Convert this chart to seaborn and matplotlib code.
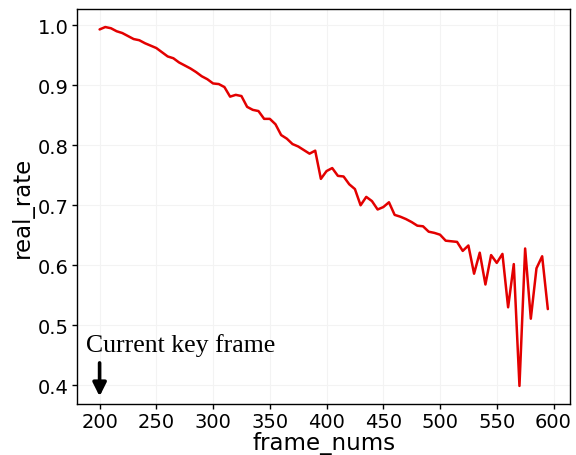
import matplotlib
matplotlib.use("Agg")
import matplotlib.pyplot as plt
import seaborn as sns
import pandas as pd

frame_nums = list(range(200, 600, 5))
real_rate = [
    0.993, 0.997, 0.995, 0.990, 0.987, 0.982, 0.977, 0.975, 0.970, 0.966,
    0.962, 0.955, 0.948, 0.945, 0.938, 0.933, 0.928, 0.922, 0.915, 0.910,
    0.903, 0.902, 0.897, 0.881, 0.884, 0.882, 0.864, 0.859, 0.857, 0.844,
    0.844, 0.835, 0.817, 0.811, 0.802, 0.798, 0.792, 0.786, 0.791, 0.744,
    0.757, 0.762, 0.749, 0.748, 0.735, 0.727, 0.700, 0.714, 0.707, 0.693,
    0.697, 0.705, 0.684, 0.681, 0.677, 0.672, 0.666, 0.665, 0.656, 0.654,
    0.651, 0.641, 0.640, 0.639, 0.624, 0.633, 0.586, 0.621, 0.568, 0.617,
    0.604, 0.619, 0.530, 0.602, 0.399, 0.628, 0.511, 0.595, 0.615, 0.527,
]
x_ticks = [200, 250, 300, 350, 400, 450, 500, 550, 600]
y_ticks = [0.4, 0.5, 0.6, 0.7, 0.8, 0.9, 1.0]
key_frame = 200
annotation = "Current key frame"

sns.set_theme(style="white")
plt.rcParams['font.family'] = ['DejaVu Sans']

df = pd.DataFrame({"frame_nums": frame_nums, "real_rate": real_rate})

fig = plt.figure(figsize=(5.76, 4.56), dpi=100)
ax = fig.add_axes([0.134, 0.112, 0.856, 0.866])
sns.lineplot(data=df, x="frame_nums", y="real_rate", ax=ax, color="#e30000", linewidth=1.8)

ax.set_xticks(x_ticks)
ax.set_yticks(y_ticks)
ax.set_xlim(180.25, 614.75)
ax.set_ylim(0.369, 1.027)
ax.grid(True, color="#f3f3f3", linewidth=0.8)
ax.tick_params(axis="both", which="both", direction="out", length=3.5, width=1,
               labelsize=14, color="black", labelcolor="black", pad=2.5,
               bottom=True, left=True)
for s in ax.spines.values():
    s.set_color("black")
    s.set_linewidth(1.0)
ax.set_xlabel("frame_nums", fontsize=16.5, color="black", labelpad=0)
ax.set_ylabel("real_rate", fontsize=16.5, color="black", labelpad=3)

ax.annotate("", xy=(key_frame, 0.377), xytext=(key_frame, 0.442),
            arrowprops=dict(arrowstyle="-|>", color="black", lw=2.6, mutation_scale=20))
ax.text(188.3, 0.457, annotation, family=["Liberation Serif"], fontsize=18.5,
        color="black", ha="left", va="baseline")

fig.savefig("out.png", dpi=100)
